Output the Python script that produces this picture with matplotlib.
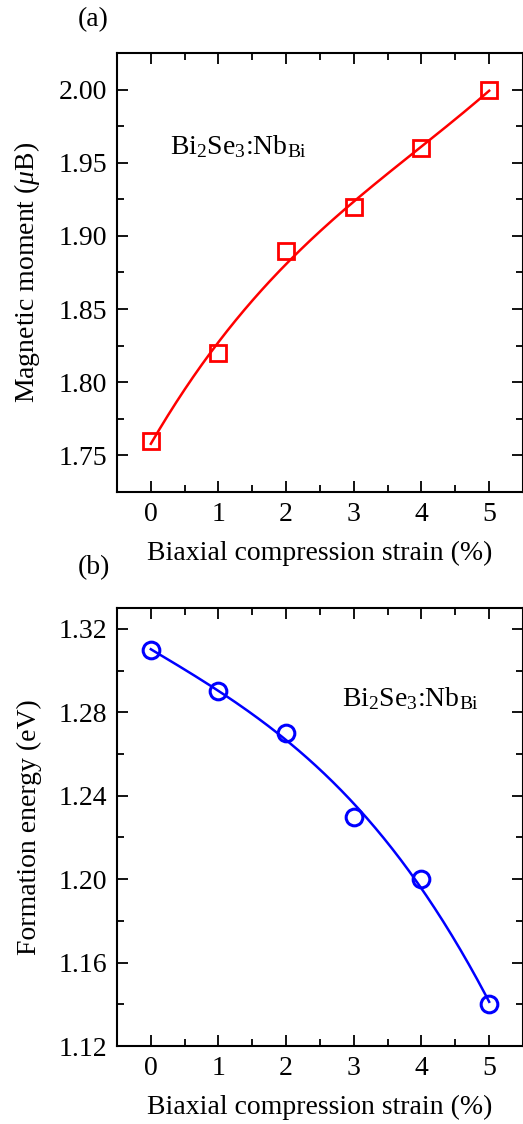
import numpy as np
import matplotlib
matplotlib.use('Agg')
from matplotlib import pyplot as plt
from matplotlib.ticker import MultipleLocator

plt.rcParams['font.family'] = ['Liberation Serif', 'DejaVu Serif']
plt.rcParams['mathtext.fontset'] = 'custom'
plt.rcParams['mathtext.rm'] = 'Liberation Serif'
plt.rcParams['mathtext.it'] = 'Liberation Serif:italic'
plt.rcParams['font.size'] = 20

# strain values (%)
strain = [0, 1, 2, 3, 4, 5]
# magnetic moment (uB)
moment = [1.76, 1.82, 1.89, 1.92, 1.96, 2.00]
# formation energy (eV)
energy = [1.31, 1.29, 1.27, 1.23, 1.20, 1.14]

fig = plt.figure(figsize=(5.23, 11.24), dpi=100)
W, H = 523.0, 1124.0
ax1 = fig.add_axes([117 / W, 1 - 492 / H, (523 - 117) / W, (492 - 53) / H])
ax2 = fig.add_axes([117 / W, 1 - 1046 / H, (523 - 117) / W, (1046 - 608) / H])

xs = np.linspace(0, 5, 200)

# panel (a)
p1 = np.polyfit(strain, moment, 3)
ax1.plot(xs, np.polyval(p1, xs), color='red', lw=1.8)
ax1.plot(strain, moment, 's', ms=11, mfc='none', mec='red', mew=2)
ax1.set_ylim(1.725, 2.025)
ax1.yaxis.set_major_locator(MultipleLocator(0.05))
ax1.yaxis.set_minor_locator(MultipleLocator(0.025))
ax1.yaxis.set_major_formatter(matplotlib.ticker.FormatStrFormatter('%.2f'))
ax1.set_ylabel(r'Magnetic moment ($\mu$B)', labelpad=12)
ax1.text(0.13, 0.77, r'Bi$_2$Se$_3$:Nb$_{\rm Bi}$', transform=ax1.transAxes, fontsize=20)
fig.text(78 / W, 1 - 20 / H, '(a)', fontsize=20, va='center')

# panel (b)
p2 = np.polyfit(strain, energy, 3)
ax2.plot(xs, np.polyval(p2, xs), color='blue', lw=1.8)
ax2.plot(strain, energy, 'o', ms=12, mfc='none', mec='blue', mew=2.2)
ax2.set_ylim(1.12, 1.33)
ax2.yaxis.set_major_locator(MultipleLocator(0.04))
ax2.yaxis.set_minor_locator(MultipleLocator(0.02))
ax2.yaxis.set_major_formatter(matplotlib.ticker.FormatStrFormatter('%.2f'))
ax2.set_ylabel('Formation energy (eV)', labelpad=12)
ax2.text(0.555, 0.775, r'Bi$_2$Se$_3$:Nb$_{\rm Bi}$', transform=ax2.transAxes, fontsize=20)
fig.text(78 / W, 1 - 568 / H, '(b)', fontsize=20, va='center')

for ax in (ax1, ax2):
    ax.set_xlim(-0.5, 5.5)
    ax.xaxis.set_major_locator(MultipleLocator(1))
    ax.xaxis.set_minor_locator(MultipleLocator(0.5))
    ax.set_xlabel('Biaxial compression strain (%)', labelpad=10)
    ax.tick_params(which='both', direction='in', top=True, right=True, width=1.3)
    ax.tick_params(which='major', length=8, pad=7)
    ax.tick_params(which='minor', length=5)
    for s in ax.spines.values():
        s.set_linewidth(1.5)

fig.savefig('out.png', dpi=100)
